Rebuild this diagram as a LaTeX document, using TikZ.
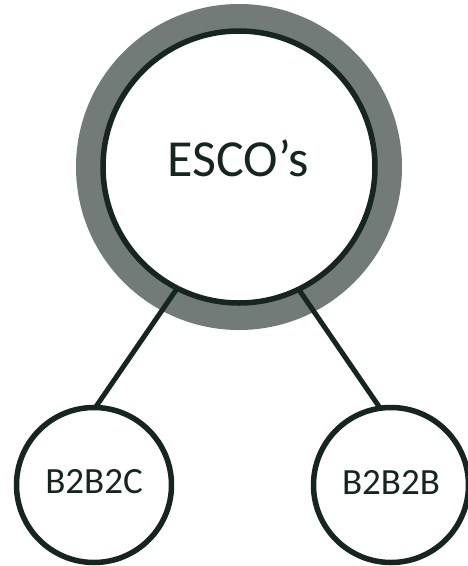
\documentclass[tikz,border=0pt]{standalone}
\usepackage{fontspec}
\setmainfont{Carlito}
\definecolor{ringgray}{HTML}{727B77}
\definecolor{darkline}{HTML}{16251F}
\tikzset{
  bigcirc/.style={circle, draw=darkline, line width=5.5pt, fill=white, inner sep=0pt, outer sep=0pt, minimum size=272pt},
  smallcirc/.style={circle, draw=darkline, line width=5.5pt, fill=white, inner sep=0pt, outer sep=0pt, minimum size=155pt},
  biglabel/.style={text=darkline, font=\fontsize{52}{62}\selectfont, inner sep=0pt},
  smalllabel/.style={text=darkline, font=\fontsize{37}{44}\selectfont, inner sep=0pt},
  conn/.style={draw=darkline, line width=5pt}
}
\begin{document}
\begin{tikzpicture}[x=1pt,y=-1pt]
\useasboundingbox (0,0) rectangle (467,566);
\coordinate (c) at (239,167);
\fill[ringgray] (c) circle (163pt);
\node[bigcirc] (esco) at (c) {};
\node[biglabel] (escolabel) at (238,158) {ESCO’s};
\node[smallcirc] (b2c) at (94,485) {};
\node[smalllabel] (b2clabel) at (94,482) {B2B2C};
\node[smallcirc] (b2b) at (391,485) {};
\node[smalllabel] (b2blabel) at (391,482) {B2B2B};
\draw[conn] (esco.243) -- (b2c.89);
\draw[conn] (esco.296) -- (b2b.98);
\end{tikzpicture}
\end{document}
